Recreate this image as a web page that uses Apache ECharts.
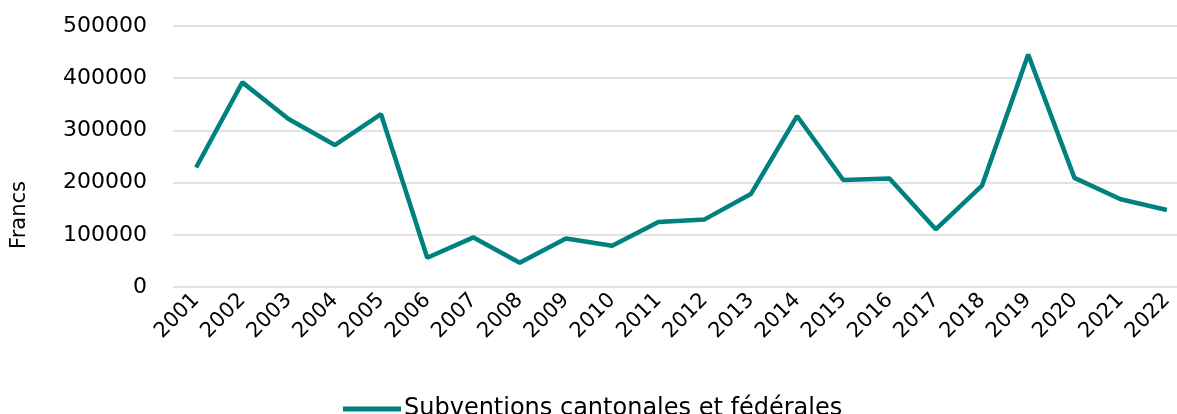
<!DOCTYPE html>
<html>
<head>
<meta charset="utf-8">
<script src="https://cdn.jsdelivr.net/npm/echarts@6/dist/echarts.min.js"></script>
<style>
  html, body { margin: 0; padding: 0; background: #fff; }
  #chart { width: 1177px; height: 414px; }
</style>
</head>
<body>
<div id="chart"></div>
<script>
// categories
const years = [
  "2001", "2002", "2003", "2004", "2005", "2006", "2007", "2008", "2009", "2010", "2011",
  "2012", "2013", "2014", "2015", "2016", "2017", "2018", "2019", "2020", "2021", "2022",
];
// series values (francs)
const subventions = [
  229000, 392000, 322000, 272000, 331000, 56000, 95000, 46500, 93000, 79000, 124500,
  129500, 178000, 327500, 205000, 208000, 110500, 194000, 445500, 209000, 168000, 147500,
];
const seriesName = "Subventions cantonales et fédérales";
const fontFamily = "'DejaVu Sans', sans-serif";

const chart = echarts.init(document.getElementById("chart"));
chart.setOption({
  animation: false,
  color: ["#00807F"],
  textStyle: { fontFamily: fontFamily },
  grid: {
    left: 173,
    top: 26,
    width: 1017,
    height: 261,
    outerBoundsMode: "none",
  },
  legend: {
    data: [seriesName],
    left: 338,
    top: 392,
    itemWidth: 58,
    itemHeight: 5,
    itemGap: 4,
    icon: "rect",
    textStyle: { fontSize: 24, color: "#000", fontFamily: fontFamily, padding: [0, 0, 0, -2] },
  },
  graphic: [
    {
      type: "text",
      x: 20,
      y: 215,
      rotation: Math.PI / 2,
      style: {
        text: "Francs",
        fontSize: 21,
        fontFamily: fontFamily,
        fill: "#000",
        align: "center",
        verticalAlign: "middle",
      },
    },
  ],
  xAxis: {
    type: "category",
    data: years,
    boundaryGap: true,
    axisLine: { show: false },
    axisTick: { show: false },
    axisLabel: {
      rotate: 45,
      fontSize: 21,
      color: "#000",
      margin: 10,
      interval: 0,
    },
  },
  yAxis: {
    type: "value",
    min: 0,
    max: 500000,
    interval: 100000,
    axisLine: { show: false },
    axisTick: { show: false },
    axisLabel: {
      fontSize: 22,
      color: "#000",
      margin: 26,
      formatter: (v) => String(v),
    },
    splitLine: { lineStyle: { color: "#d9d9d9", width: 1.5 } },
  },
  series: [
    {
      name: seriesName,
      type: "line",
      data: subventions,
      symbol: "none",
      lineStyle: { width: 4.5, color: "#00807F" },
    },
  ],
});
</script>
</body>
</html>
